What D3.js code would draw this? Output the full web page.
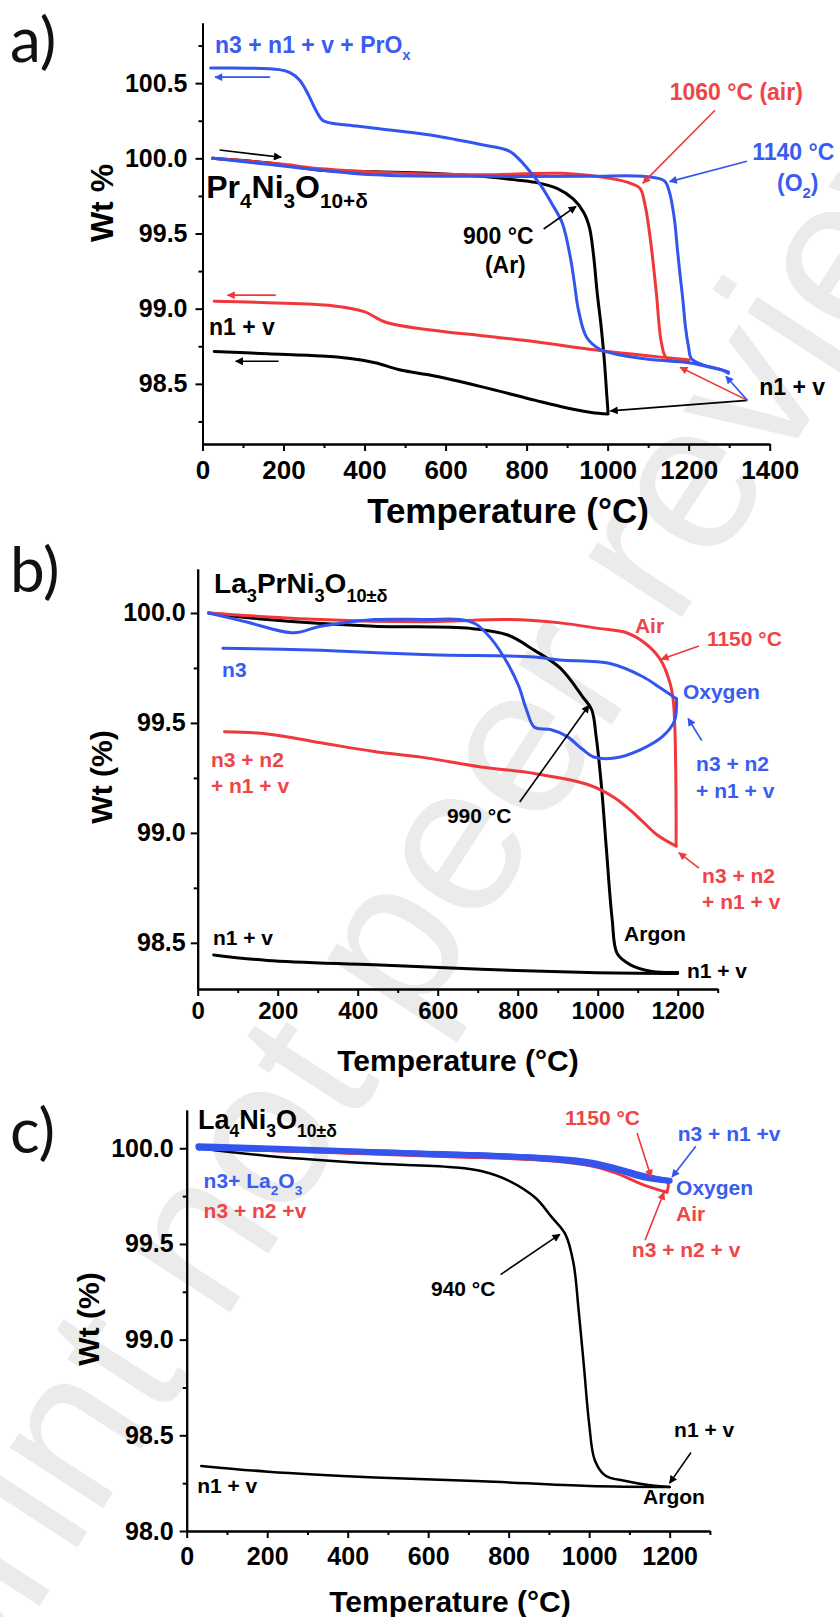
<!DOCTYPE html>
<html><head><meta charset="utf-8">
<script src="https://cdn.jsdelivr.net/npm/d3@7"></script>
<style>
body{margin:0;background:#fff;}
svg{display:block;}
text{font-family:"Liberation Sans",Arial,sans-serif;}
</style></head><body>
<svg id="chart" width="840" height="1617"></svg>
<script>
// ---------- DATA (temperature °C, weight %) ----------
// Panel a: Pr4Ni3O10+δ
const aArHeat = [[25,100.0],[161,99.97],[293,99.92],[426,99.91],[558,99.9],[690,99.88],[760,99.86],[822,99.84],[875,99.80],[915,99.73],[941,99.64],[955,99.54],[965,99.36],[974,99.11],[984,98.88],[992,98.65],[998,98.42],[1001,98.31]];
const aArCool = [[1001,98.30],[960,98.31],[900,98.34],[822,98.39],[690,98.48],[558,98.56],[492,98.59],[426,98.64],[360,98.67],[293,98.685],[161,98.70],[29,98.715]];
const aAirHeat = [[25,100.0],[200,99.96],[293,99.93],[500,99.9],[690,99.89],[888,99.9],[1020,99.86],[1060,99.83],[1080,99.8],[1093,99.68],[1106,99.45],[1120,99.11],[1133,98.77],[1146,98.67],[1200,98.65]];
const aAirCool = [[1200,98.66],[1087,98.69],[955,98.73],[822,98.78],[690,98.82],[558,98.86],[452,98.91],[399,98.98],[320,99.02],[161,99.04],[29,99.05]];
const aO2Heat = [[25,100.0],[161,99.96],[426,99.89],[690,99.88],[955,99.88],[1087,99.88],[1140,99.85],[1153,99.77],[1160,99.68],[1166,99.57],[1172,99.4],[1179,99.22],[1186,99.05],[1192,98.88],[1200,98.74],[1206,98.67],[1232,98.63],[1285,98.59],[1298,98.57]];
const aO2Cool = [[1298,98.58],[1200,98.64],[1113,98.66],[1034,98.69],[981,98.73],[948,98.81],[928,98.99],[918,99.17],[908,99.34],[888,99.57],[862,99.7],[835,99.82],[809,99.91],[783,99.99],[756,100.05],[690,100.09],[562,100.155],[426,100.2],[364,100.22],[298,100.25],[280,100.32],[260,100.43],[240,100.52],[216,100.57],[190,100.59],[20,100.6]];

// Panel b: La3PrNi3O10±δ
const bArHeat = [[27,100.0],[174,99.97],[441,99.94],[682,99.93],[775,99.9],[842,99.83],[906,99.75],[962,99.62],[985,99.56],[996,99.44],[1009,99.22],[1022,98.92],[1036,98.61],[1049,98.45],[1082,98.4],[1136,98.37],[1200,98.365]];
const bArCool = [[1200,98.36],[975,98.365],[708,98.38],[441,98.4],[174,98.42],[40,98.445]];
const bAirHeat = [[27,100.0],[307,99.97],[575,99.96],[775,99.97],[906,99.955],[1002,99.93],[1072,99.91],[1120,99.86],[1156,99.79],[1181,99.68],[1189,99.6],[1193,99.47],[1195,99.3],[1196,99.1],[1196,98.94]];
const bAirCool = [[1196,98.94],[1149,98.99],[1096,99.08],[1042,99.16],[975,99.22],[842,99.27],[708,99.3],[575,99.34],[441,99.37],[307,99.41],[174,99.45],[67,99.46]];
const bO2Heat = [[27,100.0],[120,99.96],[241,99.91],[307,99.94],[441,99.97],[575,99.97],[655,99.97],[695,99.95],[735,99.88],[775,99.77],[802,99.67],[822,99.56],[842,99.48],[882,99.47],[922,99.44],[962,99.38],[990,99.345],[1042,99.34],[1109,99.38],[1163,99.44],[1192,99.51],[1197,99.61]];
const bO2Cool = [[1197,99.61],[1156,99.66],[1113,99.71],[1031,99.77],[906,99.786],[842,99.8],[581,99.81],[307,99.83],[63,99.84]];

// Panel c: La4Ni3O10±δ
const cArHeat = [[29,100.0],[202,99.96],[468,99.92],[668,99.9],[734,99.88],[801,99.83],[867,99.74],[907,99.64],[941,99.55],[961,99.4],[974,99.15],[987,98.86],[1000,98.56],[1014,98.37],[1040,98.29],[1094,98.26],[1147,98.24],[1200,98.23]];
const cArCool = [[1200,98.23],[1000,98.235],[734,98.26],[468,98.28],[202,98.31],[36,98.34]];
const cAirHeat = [[29,100.0],[335,99.98],[867,99.94],[1000,99.91],[1067,99.87],[1133,99.81],[1193,99.77]];
const cAirCool = [[1193,99.77],[1195,99.82],[1133,99.86],[1000,99.92],[600,99.96],[29,100.0]];
const cO2Heat = [[29,100.01],[335,99.99],[601,99.97],[867,99.95],[1000,99.92],[1067,99.89],[1133,99.85],[1200,99.83]];
const cO2Cool = [[1200,99.83],[1133,99.86],[1000,99.93],[800,99.96],[500,99.98],[29,100.0]];

// Tick values
const aTicksX = [0,200,400,600,800,1000,1200,1400];
const aMinorX = [100,300,500,700,900,1100,1300];
const aTicksY = [98.5,99.0,99.5,100.0,100.5];
const aMinorY = [98.25,98.75,99.25,99.75,100.25,100.75];
const bTicksX = [0,200,400,600,800,1000,1200];
const bMinorX = [100,300,500,700,900,1100,1300];
const bTicksY = [98.5,99.0,99.5,100.0];
const bMinorY = [98.75,99.25,99.75];
const cTicksX = [0,200,400,600,800,1000,1200];
const cMinorX = [100,300,500,700,900,1100,1300];
const cTicksY = [98.0,98.5,99.0,99.5,100.0];
const cMinorY = [98.25,98.75,99.25,99.75];

// Annotation texts: [text, T, wt, colour, (size)]
const aLabels = [
  ["n3 + n1 + v + PrO_{x}", 31, 100.70, "blue"],
  ["Pr_{4}Ni_{3}O_{10+δ}", 9, 99.736, "black", 32],
  ["1060 °C (air)", 1153, 100.39, "red"],
  ["1140 °C", 1357, 99.99, "blue"],
  ["(O_{2})", 1418, 99.78, "blue"],
  ["900 °C", 643, 99.43, "black"],
  ["(Ar)", 697, 99.24, "black"],
  ["n1 + v", 16, 98.826, "black"],
  ["n1 + v", 1374, 98.427, "black"]
];
const aArrows = [ // [T0, w0, T1, w1, colour]
  [1265,100.32,1087,99.835,"red"],
  [1344,99.98,1153,99.845,"blue"],
  [842,99.53,922,99.68,"black"],
  [1345,98.39,1007,98.32,"black"],
  [1345,98.39,1179,98.61,"red"],
  [1345,98.39,1292,98.55,"blue"],
  [42,100.055,194,100.007,"black"],
  [167,100.54,31,100.54,"blue"],
  [181,99.09,62,99.09,"red"],
  [188,98.65,82,98.65,"black"]
];
const bLabels = [
  ["La_{3}PrNi_{3}O_{10±δ}", 41, 100.09, "black", 28],
  ["Air", 1093, 99.91, "red"],
  ["1150 °C", 1273, 99.85, "red"],
  ["n3", 61, 99.71, "blue"],
  ["Oxygen", 1213, 99.61, "blue"],
  ["n3 + n2", 1246, 99.28, "blue"],
  ["+ n1 + v", 1246, 99.16, "blue"],
  ["n3 + n2", 33, 99.30, "red"],
  ["+ n1 + v", 33, 99.18, "red"],
  ["n3 + n2", 1261, 98.77, "red"],
  ["+ n1 + v", 1261, 98.655, "red"],
  ["990 °C", 623, 99.045, "black"],
  ["Argon", 1066, 98.51, "black"],
  ["n1 + v", 38, 98.49, "black"],
  ["n1 + v", 1223, 98.34, "black"]
];
const bArrows = [
  [1253,99.85,1159,99.79,"red"],
  [1260,99.42,1226,99.52,"blue"],
  [1253,98.84,1203,98.91,"red"],
  [805,99.14,978,99.58,"black"]
];
const cLabels = [
  ["La_{4}Ni_{3}O_{10±δ}", 28, 100.10, "black", 27],
  ["1150 °C", 940, 100.12, "red"],
  ["n3 + n1 +v", 1220, 100.04, "blue"],
  ["Oxygen", 1216, 99.755, "blue"],
  ["Air", 1216, 99.62, "red"],
  ["n3 + n2 + v", 1106, 99.43, "red"],
  ["n3+ La_{2}O_{3}", 42, 99.79, "blue"],
  ["n3 + n2 +v", 42, 99.635, "red"],
  ["940 °C", 607, 99.23, "black"],
  ["n1 + v", 1211, 98.49, "black"],
  ["n1 + v", 26, 98.20, "black"],
  ["Argon", 1134, 98.14, "black"]
];
const cArrows = [
  [1119,100.08,1154,99.85,"red"],
  [1265,100.01,1206,99.85,"blue"],
  [1139,99.52,1186,99.77,"red"],
  [780,99.34,927,99.55,"black"],
  [1253,98.41,1200,98.25,"black"]
];

// ---------- DRAWING ----------
const COL = {red:"#f0383c", blue:"#3355ee", black:"#000"};
const TXT = {red:"#ee4646", blue:"#3a5cf0", black:"#000"};
const svg = d3.select("#chart");
const defs = svg.append("defs");
Object.keys(COL).forEach(k=>{
  defs.append("marker").attr("id","ah-"+k).attr("viewBox","0 0 10 10")
    .attr("refX",9).attr("refY",5).attr("markerWidth",9).attr("markerHeight",8)
    .attr("markerUnits","userSpaceOnUse").attr("orient","auto")
    .append("path").attr("d","M0,0 L10,5 L0,10 Z").attr("fill",COL[k]);
});

// watermark
svg.append("text").text("Preprint not peer reviewed")
  .attr("transform","translate(-210,1990) rotate(-57)")
  .attr("font-size",210).attr("fill","#ebebeb")
  .style("font-family","'Liberation Sans',Arial,sans-serif");

function rich(sel, str, size){
  const parts = str.split(/(_\{[^}]*\})/).filter(p=>p.length);
  let shifted=false;
  parts.forEach(p=>{
    if(p.startsWith("_{")){
      sel.append("tspan").text(p.slice(2,-1)).attr("font-size", size*0.65).attr("dy", shifted?0:size*0.3);
      shifted=true;
    } else {
      sel.append("tspan").text(p).attr("dy", shifted? -size*0.3:0);
      shifted=false;
    }
  });
}

function panel(c){
  const g = svg.append("g");
  const x = d3.scaleLinear().domain(c.xDomain).range(c.xRange);
  const y = d3.scaleLinear().domain(c.yDomain).range(c.yRange);
  const y0 = c.yRange[0], x0 = c.xRange[0];

  const styleAxis = (sel, fs) => {
    sel.select(".domain").attr("stroke","#000").attr("stroke-width",2);
    sel.selectAll(".tick line").attr("stroke","#000").attr("stroke-width",2);
    sel.selectAll(".tick text").attr("fill","#000").attr("font-size",fs).attr("font-weight","bold")
      .style("font-family","'Liberation Sans',Arial,sans-serif");
  };
  g.append("g").attr("transform",`translate(0,${y0})`)
    .call(d3.axisBottom(x).tickValues(c.minorX).tickFormat("").tickSize(4).tickSizeOuter(0))
    .call(s=>styleAxis(s,0));
  g.append("g").attr("transform",`translate(0,${y0})`)
    .call(d3.axisBottom(x).tickValues(c.ticksX).tickFormat(d3.format("d")).tickSize(7).tickPadding(c.xPad).tickSizeOuter(0))
    .call(s=>styleAxis(s,c.xfs));
  g.append("g").attr("transform",`translate(${x0},0)`)
    .call(d3.axisLeft(y).tickValues(c.minorY).tickFormat("").tickSize(4).tickSizeOuter(0))
    .call(s=>styleAxis(s,0));
  g.append("g").attr("transform",`translate(${x0},0)`)
    .call(d3.axisLeft(y).tickValues(c.ticksY).tickFormat(d3.format(".1f")).tickSize(7).tickPadding(c.yPad).tickSizeOuter(0))
    .call(s=>styleAxis(s,c.yfs));

  // axis titles
  g.append("text").text(c.xTitle).attr("x",c.xt[0]).attr("y",c.xt[1]).attr("text-anchor","middle")
    .attr("font-size",c.xtfs).attr("font-weight","bold");
  g.append("text").text(c.yTitle).attr("transform",`translate(${c.yt[0]},${c.yt[1]}) rotate(-90)`)
    .attr("text-anchor","middle").attr("font-size",c.ytfs).attr("font-weight","bold");
  // panel letter
  g.append("text").text(c.letter).attr("x",c.lt[0]).attr("y",c.lt[1]).attr("font-size",62)
    .style("font-family","Lato,'Open Sans',sans-serif").attr("fill","#111");

  const line = d3.line().x(d=>x(d[0])).y(d=>y(d[1])).curve(d3.curveCatmullRom.alpha(0.5));
  c.series.forEach(s=>{
    g.append("path").datum(s.data).attr("d",line).attr("fill","none")
      .attr("stroke",COL[s.color]).attr("stroke-width",s.w||3).attr("stroke-linejoin","round").attr("stroke-linecap","round");
  });
  c.arrows.forEach(a=>{
    g.append("line").attr("x1",x(a[0])).attr("y1",y(a[1])).attr("x2",x(a[2])).attr("y2",y(a[3]))
      .attr("stroke",COL[a[4]]).attr("stroke-width",1.6).attr("marker-end",`url(#ah-${a[4]})`);
  });
  c.labels.forEach(l=>{
    const fs = l[4] || c.lfs;
    const t = g.append("text").attr("x",x(l[1])).attr("y",y(l[2])).attr("fill",TXT[l[3]])
      .attr("font-size",fs).attr("font-weight","bold");
    rich(t,l[0],fs);
  });
}

panel({
  xDomain:[0,1400], xRange:[202.5,769.7], yDomain:[98.1,100.9], yRange:[444,23],
  ticksX:aTicksX, minorX:aMinorX, ticksY:aTicksY, minorY:aMinorY,
  xPad:10, yPad:8, xfs:26, yfs:25,
  xTitle:"Temperature (°C)", xt:[508,523], xtfs:35,
  yTitle:"Wt %", yt:[113,203], ytfs:32,
  letter:"a)", lt:[10,62], lfs:23,
  series:[
    {data:aArHeat,color:"black"},{data:aArCool,color:"black"},
    {data:aAirHeat,color:"red"},{data:aAirCool,color:"red"},
    {data:aO2Heat,color:"blue"},{data:aO2Cool,color:"blue"}
  ],
  arrows:aArrows, labels:aLabels
});
panel({
  xDomain:[0,1300], xRange:[197.7,717.7], yDomain:[98.29,100.2], yRange:[989,569],
  ticksX:bTicksX, minorX:bMinorX, ticksY:bTicksY, minorY:bMinorY,
  xPad:6, yPad:5, xfs:24, yfs:25,
  xTitle:"Temperature (°C)", xt:[458,1071], xtfs:30,
  yTitle:"Wt (%)", yt:[112,777], ytfs:30,
  letter:"b)", lt:[10,592], lfs:21,
  series:[
    {data:bArHeat,color:"black"},{data:bArCool,color:"black"},
    {data:bAirHeat,color:"red"},{data:bAirCool,color:"red"},
    {data:bO2Heat,color:"blue"},{data:bO2Cool,color:"blue"}
  ],
  arrows:bArrows, labels:bLabels
});
panel({
  xDomain:[0,1300], xRange:[186.7,709.9], yDomain:[98.0,100.2], yRange:[1531,1110],
  ticksX:cTicksX, minorX:cMinorX, ticksY:cTicksY, minorY:cMinorY,
  xPad:9, yPad:6, xfs:25, yfs:25,
  xTitle:"Temperature (°C)", xt:[450,1612], xtfs:30,
  yTitle:"Wt (%)", yt:[99,1319], ytfs:30,
  letter:"c)", lt:[10,1153], lfs:21,
  series:[
    {data:cArHeat,color:"black",w:2.5},{data:cArCool,color:"black",w:2.5},
    {data:cAirHeat,color:"red"},{data:cAirCool,color:"red"},
    {data:cO2Heat,color:"blue",w:6},{data:cO2Cool,color:"blue",w:5}
  ],
  arrows:cArrows, labels:cLabels
});
</script>
</body></html>
